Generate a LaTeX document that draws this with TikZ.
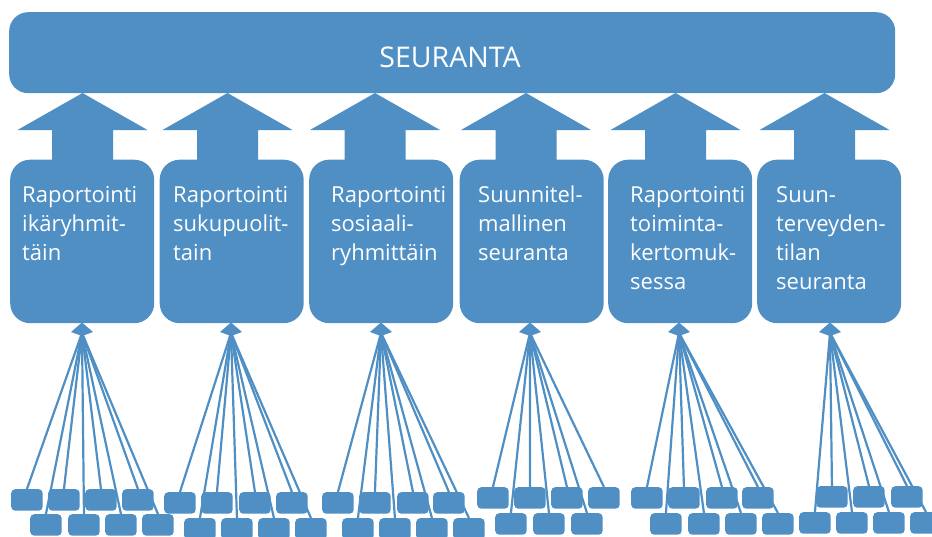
\documentclass[tikz,border=0pt]{standalone}
\usepackage{fontspec}
\setmainfont{Open Sans}
\usetikzlibrary{backgrounds}
\definecolor{boxblue}{RGB}{79,143,196}

\begin{document}
\begin{tikzpicture}[x=1pt,y=-1pt,
  topbox/.style={fill=boxblue, rounded corners=19pt, minimum width=886pt,
    minimum height=81pt, inner sep=0pt, anchor=north west},
  mainbox/.style={fill=boxblue, rounded corners=20pt, minimum width=144pt,
    minimum height=163.5pt, inner sep=0pt, anchor=north west},
  itembox/.style={fill=boxblue, rounded corners=4pt, minimum width=31.5pt,
    minimum height=21.5pt, inner sep=0pt, anchor=north west},
  feed/.style={draw=boxblue, line width=2.2pt},
  boxtext/.style={text=white, anchor=base west, inner sep=0pt},
]
\useasboundingbox (0,0) rectangle (932,536);
\clip (0,0) rectangle (932,536);

% top bar
\node[topbox] (seur) at (9,12) {};
\node[text=white, anchor=base, inner sep=0pt,
  font=\fontsize{28.5}{30}\selectfont] (seurtext) at (450,67) {SEURANTA};

% reporting boxes
\foreach \x [count=\i] in {10,159.5,309,459.5,608,757}
  \node[mainbox] (b\i) at (\x,159.5) {};

\newcommand{\boxlabel}[3]{%
  \node[boxtext] (t#1) at (#2,202)
    {\parbox[t]{140pt}{\raggedright\fontsize{22}{29}\selectfont #3}};}
\boxlabel{1}{22}{Raportointi\\ikäryhmit-\\täin}
\boxlabel{2}{173}{Raportointi\\sukupuolit-\\tain}
\boxlabel{3}{331}{Raportointi\\sosiaali-\\ryhmittäin}
\boxlabel{4}{478}{Suunnitel-\\mallinen\\seuranta}
\boxlabel{5}{630}{Raportointi\\toiminta-\\kertomuk-\\sessa}
\boxlabel{6}{776}{Suun-\\terveyden-\\tilan\\seuranta}

% block arrows from each box up to the top bar
\foreach \c [count=\i] in {82.5,227.5,375,526,675.5,824.5} {
  \coordinate (tip\i) at (\c,93);
  \fill[boxblue] (tip\i) -- ++(65,37) -- ++(-34.5,0) -- ++(0,31)
    -- ++(-61,0) -- ++(0,-31) -- ++(-34.5,0) -- cycle;
}

% hubs where the item lines meet, with small arrow heads
\foreach \c [count=\i] in {82,231,381,530,679,830} {
  \coordinate (h\i) at (\c,333);
  \fill[boxblue] (\c,322.5) -- ++(11,9.5) -- ++(-11,4) -- ++(-11,-4) -- cycle;
}

% item boxes, two staggered rows per group
\foreach \x [count=\k] in {11,48,85,122}   \node[itembox] (g1a\k) at (\x,489) {};
\foreach \x [count=\k] in {30,68,105,142}  \node[itembox] (g1b\k) at (\x,514) {};
\foreach \x [count=\k] in {164,201,239,276} \node[itembox] (g2a\k) at (\x,492) {};
\foreach \x [count=\k] in {184,221,258,295} \node[itembox] (g2b\k) at (\x,518) {};
\foreach \x [count=\k] in {322,359,397,433} \node[itembox] (g3a\k) at (\x,492) {};
\foreach \x [count=\k] in {342,379,416,453} \node[itembox] (g3b\k) at (\x,518) {};
\foreach \x [count=\k] in {477,514,551,588} \node[itembox] (g4a\k) at (\x,487) {};
\foreach \x [count=\k] in {495,533,571}     \node[itembox] (g4b\k) at (\x,513) {};
\foreach \x [count=\k] in {631,668,706,742} \node[itembox] (g5a\k) at (\x,487) {};
\foreach \x [count=\k] in {650,688,725,762} \node[itembox] (g5b\k) at (\x,513) {};
\foreach \x [count=\k] in {816,853,891}     \node[itembox] (g6a\k) at (\x,486) {};
\foreach \x [count=\k] in {799,836,873,910} \node[itembox] (g6b\k) at (\x,512) {};

% lines from each item box to its hub
\begin{scope}[on background layer]
  \foreach \g/\na/\nb in {1/4/4, 2/4/4, 3/4/4, 4/4/3, 5/4/4, 6/3/4} {
    \foreach \k in {1,...,\na} \draw[feed] (h\g) -- (g\g a\k.north);
    \foreach \k in {1,...,\nb} \draw[feed] (h\g) -- (g\g b\k.north);
  }
\end{scope}
\end{tikzpicture}
\end{document}
